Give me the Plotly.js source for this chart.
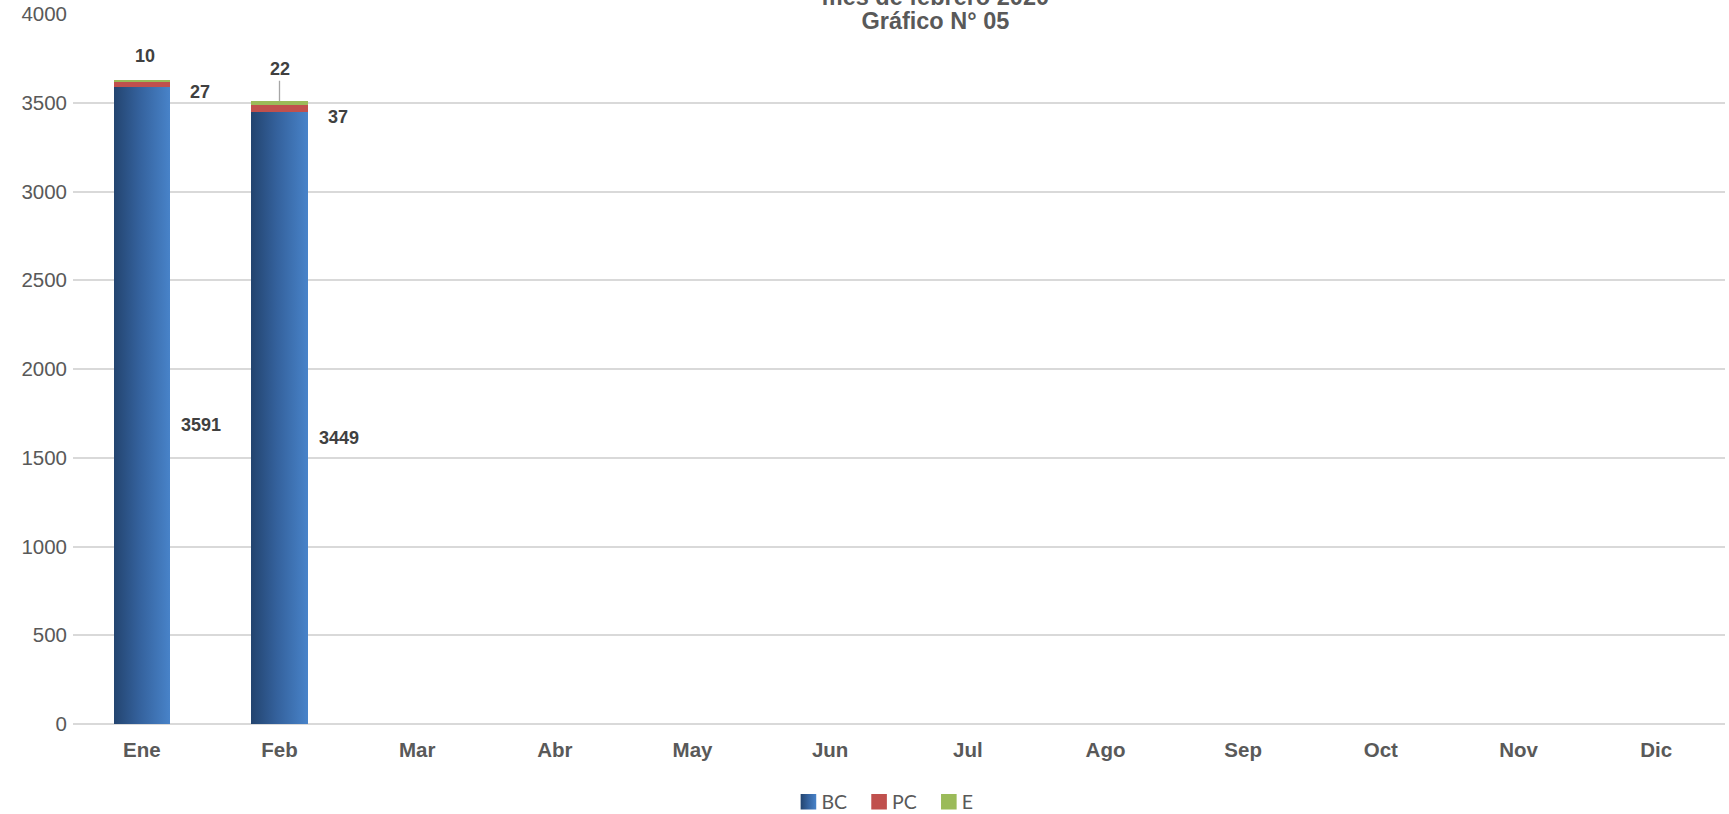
<!DOCTYPE html>
<html>
<head>
<meta charset="utf-8">
<script src="https://cdn.plot.ly/plotly-3.0.1.min.js"></script>
<style>html,body{margin:0;padding:0;background:#fff;}#chart{width:1729px;height:814px;}</style>
</head>
<body>
<div id="chart"></div>
<script>
const months = ["Ene","Feb","Mar","Abr","May","Jun","Jul","Ago","Sep","Oct","Nov","Dic"];
const bcValues = [3591, 3449, null, null, null, null, null, null, null, null, null, null];
const pcValues = [27, 37, null, null, null, null, null, null, null, null, null, null];
const eValues  = [10, 22, null, null, null, null, null, null, null, null, null, null];
const yTicks = [0, 500, 1000, 1500, 2000, 2500, 3000, 3500, 4000];

const grey = "#595959";
const labelFont = {family: "Liberation Sans, Arial, sans-serif", size: 18, color: "#404040"};

const traces = [
  {type: "bar", name: "BC", x: months, y: bcValues, marker: {color: "#3a6aa8"}, hoverinfo: "x+y+name"},
  {type: "bar", name: "PC", x: months, y: pcValues, marker: {color: "#c0504d"}, hoverinfo: "x+y+name"},
  {type: "bar", name: "E",  x: months, y: eValues,  marker: {color: "#9bbb59"}, hoverinfo: "x+y+name"}
];

const annotations = [];
months.forEach((m, i) => {
  if (bcValues[i] == null) return;
  const bc = bcValues[i], pc = pcValues[i], e = eValues[i];
  annotations.push({x: m, y: bc / 2, text: "<b>" + bc + "</b>", showarrow: false,
    xshift: 59, yshift: -20, font: labelFont});
  annotations.push({x: m, y: bc + pc / 2, text: "<b>" + pc + "</b>", showarrow: false,
    xshift: 58, yshift: -8, font: labelFont});
  const lead = (i === 1);
  annotations.push({x: m, y: bc + pc + e, text: "<b>" + e + "</b>",
    showarrow: lead, arrowhead: 0, arrowcolor: "#a6a6a6", arrowwidth: 1.3, ax: 0, ay: -32, standoff: 0,
    xshift: lead ? 0 : 3, yshift: lead ? 0 : 24, font: labelFont});
});

const layout = {
  width: 1729, height: 814,
  paper_bgcolor: "#ffffff", plot_bgcolor: "#ffffff",
  margin: {l: 73, r: 4, t: 14, b: 90, autoexpand: false},
  barmode: "stack",
  bargap: 0.59,
  font: {family: "Liberation Sans, Arial, sans-serif", color: grey},
  title: {
    text: "<b>mes de febrero 2020</b><br><b>Gráfico N° 05</b>",
    font: {family: "Liberation Sans, Arial, sans-serif", size: 23.5, color: grey},
    x: 0.541, xanchor: "center", xref: "container",
    y: 0.9943, yanchor: "bottom", yref: "container"
  },
  xaxis: {
    type: "category", categoryarray: months, categoryorder: "array",
    tickfont: {family: "Liberation Sans, Arial, sans-serif", size: 20.5, color: grey},
    tickprefix: "<b>", ticksuffix: "</b>",
    showline: false, showgrid: false, zeroline: false, ticks: "",
    ticklabelstandoff: 11, automargin: false
  },
  yaxis: {
    range: [0, 4000], tickvals: yTicks, ticktext: yTicks.map(String),
    tickfont: {family: "Liberation Sans, Arial, sans-serif", size: 20.5, color: grey},
    gridcolor: "#d9d9d9", gridwidth: 1.5, zeroline: true, zerolinecolor: "#d9d9d9", zerolinewidth: 1.5,
    showline: false, ticks: "", ticklabelstandoff: 5, fixedrange: true, automargin: false
  },
  legend: {
    orientation: "h", x: 0.4927, xanchor: "center", y: -0.11, yanchor: "middle",
    font: {family: "Lato, Open Sans, sans-serif", size: 19.5, color: grey},
    itemwidth: 30, traceorder: "normal", tracegroupgap: 0
  },
  annotations: annotations,
  showlegend: true
};

function applyGradient(gd) {
  const svg = gd.querySelector("svg.main-svg");
  if (!svg) return;
  const ns = "http://www.w3.org/2000/svg";
  let defs = svg.querySelector("defs");
  if (!defs) { defs = document.createElementNS(ns, "defs"); svg.insertBefore(defs, svg.firstChild); }
  if (!svg.querySelector("#bcGrad")) {
    const lg = document.createElementNS(ns, "linearGradient");
    lg.setAttribute("id", "bcGrad");
    lg.setAttribute("x1", "0"); lg.setAttribute("y1", "0");
    lg.setAttribute("x2", "1"); lg.setAttribute("y2", "0");
    [["0%", "#23446f"], ["45%", "#34619c"], ["100%", "#4883c9"]].forEach(([o, c]) => {
      const s = document.createElementNS(ns, "stop");
      s.setAttribute("offset", o); s.setAttribute("stop-color", c);
      lg.appendChild(s);
    });
    defs.appendChild(lg);
  }
  const bars = gd.querySelectorAll(".barlayer .trace.bars");
  if (bars.length) {
    bars[0].querySelectorAll("path").forEach(p => { p.style.fill = "url(#bcGrad)"; });
  }
  const legendPts = gd.querySelectorAll(".legend .traces .legendpoints path");
  legendPts.forEach((p, k) => {
    if (k === 0) p.style.fill = "url(#bcGrad)";
    if (!p.dataset.scaled) {
      const t = p.getAttribute("transform") || "";
      p.setAttribute("transform", t + " scale(1.3)");
      p.dataset.scaled = "1";
    }
  });
  gd.querySelectorAll(".legend .traces .legendtext").forEach(tx => {
    if (!tx.dataset.moved) {
      tx.setAttribute("x", String(parseFloat(tx.getAttribute("x") || "40") - 7));
      tx.dataset.moved = "1";
    }
  });
  const tLines = gd.querySelectorAll(".gtitle tspan.line");
  if (tLines.length > 1 && !tLines[1].dataset.tight) {
    const d = parseFloat(tLines[1].getAttribute("dy") || "1.3");
    tLines[1].setAttribute("dy", (d - 0.28) + "em");
    tLines[1].dataset.tight = "1";
  }
}

const gd = document.getElementById("chart");
Plotly.newPlot(gd, traces, layout, {displayModeBar: false, responsive: false}).then(() => {
  applyGradient(gd);
  gd.on("plotly_afterplot", () => applyGradient(gd));
});
</script>
</body>
</html>
